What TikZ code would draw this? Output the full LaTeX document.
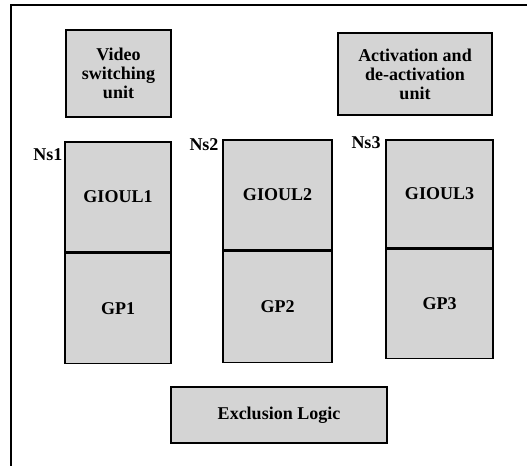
\documentclass[tikz,border=0pt]{standalone}
\usepackage{fontspec}
\setmainfont{Liberation Serif}
\usetikzlibrary{positioning}
\tikzset{
  blk/.style={draw, line width=1.6pt, fill=black!17, font=\bfseries, align=center, inner sep=0pt},
  lbl/.style={font=\bfseries, inner sep=0pt}
}
\begin{document}
\fontsize{18}{19}\selectfont
\begin{tikzpicture}[x=1pt, y=1pt]
\useasboundingbox (0,0) rectangle (527,466);
% frame, only top and left
\draw[line width=1.8pt] (527,461) -- (11,461) -- (11,0);
% units on top
\node[blk, minimum width=105, minimum height=87] (video) at (118.5,392.5) {Video\\switching\\unit};
\node[blk, minimum width=154, minimum height=82] (activ) at (415,392) {Activation and\\de-activation\\unit};
% the three stacks
\node[blk, minimum width=106, minimum height=110] (gioul1) at (118,269) {GIOUL1};
\node[blk, minimum width=106, minimum height=110, below=0pt of gioul1] (gp1) {GP1};
\node[blk, minimum width=109, minimum height=110] (gioul2) at (277.5,271) {GIOUL2};
\node[blk, minimum width=109, minimum height=111, below=0pt of gioul2] (gp2) {GP2};
\node[blk, minimum width=107, minimum height=108] (gioul3) at (439.5,272) {GIOUL3};
\node[blk, minimum width=107, minimum height=109, below=0pt of gioul3] (gp3) {GP3};
\node[lbl] (ns1) at (48,311) {Ns1};
\node[lbl] (ns2) at (204,321) {Ns2};
\node[lbl] (ns3) at (366,323) {Ns3};
% bottom
\node[blk, minimum width=216, minimum height=56] (excl) at (279,51) {Exclusion Logic};
\end{tikzpicture}
\end{document}
